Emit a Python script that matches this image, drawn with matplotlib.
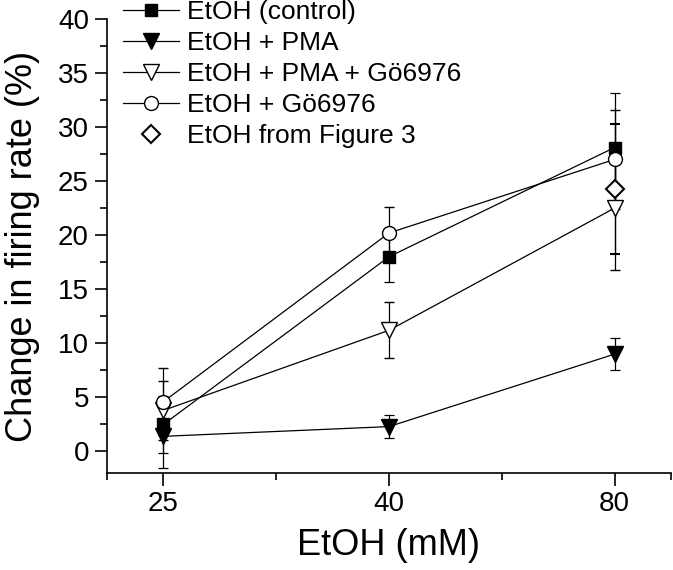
import numpy as np
import matplotlib
matplotlib.use('Agg')
import matplotlib.pyplot as plt
from matplotlib.lines import Line2D

plt.rcParams['font.family'] = ['Liberation Sans', 'DejaVu Sans']

conc = ['25', '40', '80']

ctrl = [2.5, 18.0, 28.1]
ctrl_err = [2.6, 2.3, 5.0]
pma = [1.4, 2.3, 9.0]
pma_err = [2.9, 1.1, 1.5]
pma_go = [3.8, 11.2, 22.5]
pma_go_err = [2.7, 2.6, 5.7]
go = [4.6, 20.2, 27.0]
go_err = [3.1, 2.4, 4.6]
fig3 = [24.3]
fig3_err = [6.0]

x = np.arange(len(conc))

fig = plt.figure(figsize=(6.73, 5.7), dpi=100)
ax = fig.add_axes([0.159, 0.17, 0.838, 0.797])

lw = 0.9
common = dict(color='black', lw=lw, elinewidth=lw, capsize=3.5, capthick=lw)

styles = [
    dict(marker='s', ms=9, mfc='black', mec='black'),
    dict(marker='v', ms=12, mfc='black', mec='black'),
    dict(marker='v', ms=12, mfc='white', mec='black', mew=1.0),
    dict(marker='o', ms=10, mfc='white', mec='black', mew=1.0),
    dict(marker='D', ms=9, mfc='white', mec='black', mew=1.5),
]
names = ['EtOH (control)', 'EtOH + PMA', 'EtOH + PMA + Gö6976',
         'EtOH + Gö6976', 'EtOH from Figure 3']

ax.errorbar(x, ctrl, yerr=ctrl_err, **styles[0], **common)
ax.errorbar(x, pma, yerr=pma_err, **styles[1], **common)
ax.errorbar(x, pma_go, yerr=pma_go_err, **styles[2], **common)
ax.errorbar(x, go, yerr=go_err, **styles[3], **common)
ax.errorbar([2], fig3, yerr=fig3_err, ls='none', **styles[4], **common)

ax.set_xlim(-0.25, 2.25)
ax.set_ylim(-2, 40)
ax.set_xticks(x)
ax.set_xticklabels(conc)
ax.set_xticks([-0.25, 0.5, 1.5, 2.25], minor=True)
ax.set_yticks(np.arange(0, 41, 5))
ax.set_yticks(np.arange(2.5, 40, 5), minor=True)

for s in ['top', 'right']:
    ax.spines[s].set_visible(False)
for s in ['left', 'bottom']:
    ax.spines[s].set_linewidth(1.2)

ax.tick_params(which='major', direction='out', length=9, width=1.2, labelsize=20, pad=4)
ax.tick_params(which='minor', direction='out', length=5, width=1.2)

ax.set_xlabel('EtOH (mM)', fontsize=26, labelpad=8)
ax.set_ylabel('Change in firing rate (%)', fontsize=26, labelpad=13)

handles = []
for i, st in enumerate(styles):
    ls = 'none' if i == 4 else '-'
    handles.append(Line2D([], [], color='black', lw=lw, ls=ls, **st))
ax.legend(handles, names, loc='upper left', bbox_to_anchor=(0.01, 1.065),
          frameon=False, fontsize=19, handlelength=2.1, handletextpad=0.3,
          labelspacing=0.27, borderaxespad=0)

fig.savefig('out.png', dpi=100)
